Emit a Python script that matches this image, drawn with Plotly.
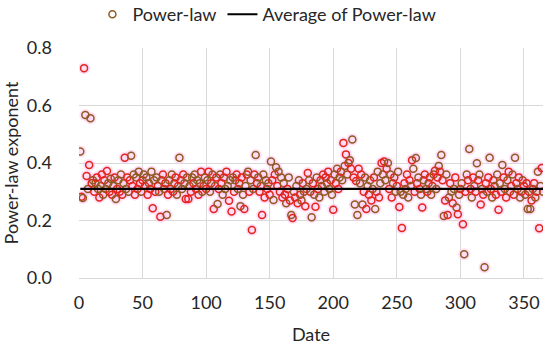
import plotly.graph_objects as go

days = list(range(1, 366))

power_law = [
    0.44, 0.283, 0.278, 0.73, 0.567, 0.355, 0.31, 0.393, 0.556, 0.33,
    0.34, 0.30, 0.33, 0.35, 0.31, 0.28, 0.32, 0.36, 0.29, 0.34,
    0.31, 0.372, 0.33, 0.30, 0.345, 0.29, 0.32, 0.35, 0.275, 0.31,
    0.34, 0.30, 0.36, 0.29, 0.33, 0.418, 0.31, 0.35, 0.30, 0.34,
    0.425, 0.32, 0.36, 0.29, 0.35, 0.31, 0.37, 0.33, 0.30, 0.34,
    0.36, 0.32, 0.35, 0.29, 0.33, 0.31, 0.37, 0.243, 0.34, 0.30,
    0.35, 0.32, 0.30, 0.213, 0.34, 0.36, 0.31, 0.33, 0.219, 0.29,
    0.34, 0.31, 0.36, 0.30, 0.33, 0.35, 0.29, 0.32, 0.418, 0.34,
    0.31, 0.36, 0.33, 0.275, 0.35, 0.275, 0.32, 0.30, 0.35, 0.33,
    0.36, 0.31, 0.34, 0.29, 0.33, 0.37, 0.30, 0.32, 0.35, 0.31,
    0.34, 0.37, 0.30, 0.33, 0.36, 0.24, 0.32, 0.35, 0.257, 0.31,
    0.36, 0.33, 0.29, 0.35, 0.31, 0.37, 0.32, 0.269, 0.34, 0.231,
    0.35, 0.30, 0.34, 0.36, 0.31, 0.33, 0.25, 0.35, 0.29, 0.24,
    0.32, 0.36, 0.37, 0.30, 0.34, 0.167, 0.31, 0.36, 0.428, 0.33,
    0.35, 0.30, 0.32, 0.219, 0.36, 0.28, 0.34, 0.31, 0.33, 0.29,
    0.405, 0.34, 0.271, 0.36, 0.385, 0.32, 0.37, 0.30, 0.35, 0.28,
    0.33, 0.29, 0.26, 0.31, 0.35, 0.27, 0.219, 0.209, 0.30, 0.28,
    0.32, 0.26, 0.34, 0.29, 0.27, 0.33, 0.30, 0.25, 0.31, 0.365,
    0.34, 0.30, 0.211, 0.33, 0.29, 0.248, 0.35, 0.31, 0.28, 0.34,
    0.32, 0.36, 0.30, 0.35, 0.33, 0.37, 0.31, 0.34, 0.29, 0.237,
    0.36, 0.33, 0.38, 0.31, 0.35, 0.37, 0.34, 0.47, 0.39, 0.43,
    0.36, 0.40, 0.41, 0.38, 0.482, 0.35, 0.256, 0.337, 0.219, 0.38,
    0.33, 0.36, 0.256, 0.30, 0.35, 0.24, 0.32, 0.29, 0.34, 0.27,
    0.31, 0.35, 0.24, 0.30, 0.37, 0.28, 0.33, 0.40, 0.36, 0.405,
    0.34, 0.38, 0.40, 0.31, 0.36, 0.28, 0.33, 0.35, 0.30, 0.32,
    0.37, 0.247, 0.30, 0.174, 0.29, 0.33, 0.31, 0.36, 0.28, 0.34,
    0.32, 0.41, 0.38, 0.30, 0.417, 0.33, 0.35, 0.31, 0.29, 0.245,
    0.34, 0.36, 0.31, 0.30, 0.33, 0.35, 0.29, 0.32, 0.36, 0.373,
    0.31, 0.35, 0.39, 0.37, 0.428, 0.34, 0.216, 0.27, 0.36, 0.219,
    0.28, 0.33, 0.30, 0.26, 0.31, 0.35, 0.245, 0.222, 0.29, 0.31,
    0.33, 0.187, 0.083, 0.30, 0.36, 0.34, 0.449, 0.31, 0.28, 0.35,
    0.32, 0.30, 0.399, 0.34, 0.36, 0.256, 0.31, 0.29, 0.037, 0.33,
    0.30, 0.35, 0.418, 0.31, 0.28, 0.34, 0.32, 0.29, 0.36, 0.237,
    0.33, 0.30, 0.393, 0.35, 0.31, 0.28, 0.34, 0.37, 0.30, 0.32,
    0.36, 0.29, 0.418, 0.33, 0.31, 0.35, 0.28, 0.30, 0.34, 0.32,
    0.29, 0.33, 0.24, 0.30, 0.24, 0.27, 0.31, 0.33, 0.28, 0.30,
    0.37, 0.173, 0.32, 0.383, 0.30,
]

average_value = 0.31
avg_x = [days[0], days[-1]]
avg_y = [average_value, average_value]

x_ticks = [0, 50, 100, 150, 200, 250, 300, 350]
y_ticks = [0.0, 0.2, 0.4, 0.6, 0.8]

RED = "#E3241C"
BROWN = "#8E5B22"
marker_colors = [BROWN if i % 2 == 0 else RED for i in range(len(days))]

FONT = "Lato"
FS = 18
TXT = "#262626"

fig = go.Figure()

# pink glow beneath markers
fig.add_trace(go.Scatter(
    x=days, y=power_law, mode="markers",
    marker=dict(size=12, color="rgba(255,200,240,0.6)", line=dict(width=0)),
    showlegend=False, hoverinfo="skip",
))

fig.add_trace(go.Scatter(
    x=days, y=power_law, mode="markers", name="Power-law", legend="legend",
    marker=dict(symbol="circle-open", size=7, color=marker_colors,
                line=dict(width=1.5)),
))

fig.add_trace(go.Scatter(
    x=avg_x, y=avg_y, mode="lines", name="Average of Power-law", legend="legend2",
    line=dict(color="black", width=2.2),
))

legend_common = dict(orientation="h", xref="container", yref="container",
                     xanchor="left", yanchor="middle",
                     font=dict(size=FS, color=TXT), itemwidth=30,
                     bgcolor="rgba(0,0,0,0)")

fig.update_layout(
    width=550, height=347,
    margin=dict(l=79, r=7, t=48, b=69, autoexpand=False),
    paper_bgcolor="white", plot_bgcolor="white",
    font=dict(family=FONT, size=FS, color=TXT),
    legend=dict(x=0.168, y=0.958, **legend_common),
    legend2=dict(x=0.4045, y=0.958, **legend_common),
    showlegend=True,
)

fig.update_xaxes(
    range=[0, 365], tickvals=x_ticks, ticktext=[str(v) for v in x_ticks],
    showgrid=True, gridcolor="#D9D9D9", gridwidth=1,
    showline=True, linecolor="#D9D9D9", linewidth=1,
    zeroline=False, ticks="", ticklabelstandoff=8,
    tickfont=dict(size=FS, color=TXT),
    title=dict(text="Date", font=dict(size=FS, color=TXT), standoff=16),
)

fig.update_yaxes(
    range=[0, 0.8], tickvals=y_ticks, ticktext=[f"{v:.1f}" for v in y_ticks],
    showgrid=True, gridcolor="#D9D9D9", gridwidth=1,
    showline=False, zeroline=False, ticks="", ticklabelstandoff=26,
    tickfont=dict(size=FS, color=TXT),
    title=dict(text="Power-law exponent", font=dict(size=FS, color=TXT), standoff=3),
)

fig.write_html("out.html", config={"displayModeBar": False},
               post_script="document.body.style.margin='0';")
